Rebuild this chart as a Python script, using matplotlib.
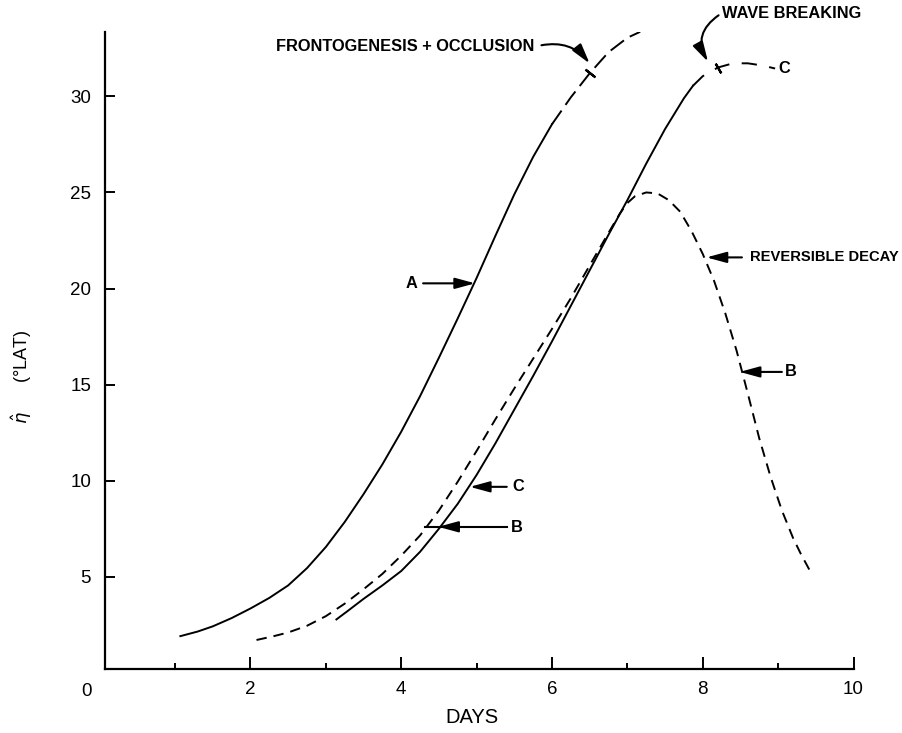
import matplotlib
matplotlib.use('Agg')
import matplotlib.pyplot as plt
import numpy as np

plt.rcParams['font.family'] = ['Liberation Sans', 'DejaVu Sans']
plt.rcParams['lines.scale_dashes'] = False

# curve A: solid up to a_break, dashed after
a_days = [1.07, 1.30, 1.50, 1.75, 2.00, 2.25, 2.50, 2.75, 3.00, 3.25, 3.50, 3.75,
          4.00, 4.25, 4.50, 4.75, 5.00, 5.25, 5.50, 5.75, 6.00, 6.25, 6.50, 6.75,
          7.00, 7.17]
a_eta = [1.91, 2.15, 2.42, 2.85, 3.35, 3.90, 4.55, 5.45, 6.55, 7.85, 9.30, 10.85,
         12.55, 14.40, 16.40, 18.45, 20.55, 22.75, 24.90, 26.85, 28.55, 29.95, 31.20, 32.30,
         33.05, 33.36]
a_break = 6.0
a_tick = 6.5

# curve B: dashed throughout
b_days = [2.08, 2.30, 2.50, 2.75, 3.00, 3.25, 3.50, 3.75, 4.00, 4.25, 4.50, 4.75,
          5.00, 5.25, 5.50, 5.75, 6.00, 6.25, 6.50, 6.75, 6.90, 7.00, 7.10, 7.25,
          7.40, 7.55, 7.70, 7.85, 8.00, 8.15, 8.30, 8.45, 8.60, 8.75, 8.90, 9.05,
          9.20, 9.30, 9.44]
b_eta = [1.71, 1.90, 2.10, 2.45, 2.95, 3.60, 4.35, 5.15, 6.10, 7.15, 8.45, 9.95,
         11.55, 13.20, 14.80, 16.35, 17.90, 19.50, 21.20, 22.90, 23.90, 24.45, 24.80, 25.00,
         24.95, 24.60, 24.00, 23.00, 21.80, 20.40, 18.70, 16.75, 14.50, 12.20, 10.20, 8.45,
         7.00, 6.20, 5.18]

# curve C: solid up to c_break, dashed after
c_days = [3.14, 3.30, 3.50, 3.75, 4.00, 4.25, 4.50, 4.75, 5.00, 5.25, 5.50, 5.75,
          6.00, 6.25, 6.50, 6.75, 7.00, 7.25, 7.50, 7.75, 7.87, 8.00, 8.20, 8.40,
          8.60, 8.80, 8.96]
c_eta = [2.78, 3.25, 3.85, 4.55, 5.30, 6.30, 7.50, 8.80, 10.30, 11.95, 13.70, 15.45,
         17.25, 19.10, 20.95, 22.80, 24.60, 26.50, 28.30, 29.90, 30.55, 31.05, 31.50, 31.72,
         31.72, 31.60, 31.45]
c_break = 7.87
c_tick = 8.2

x_major = [2, 4, 6, 8, 10]
x_minor = [1, 3, 5, 7, 9]
y_major = [5, 10, 15, 20, 25, 30]

fig = plt.figure(figsize=(9.02, 7.33), dpi=100)
ax = fig.add_axes([105 / 902, 64 / 733, 748.5 / 902, 637 / 733])

lw = 1.4


def split(days, eta, brk):
    d = np.array(days)
    e = np.array(eta)
    return (d[d <= brk], e[d <= brk]), (d[d >= brk], e[d >= brk])


(sx, sy), (dx, dy) = split(a_days, a_eta, a_break)
ax.plot(sx, sy, 'k-', lw=lw)
ax.plot(dx, dy, 'k', lw=lw, dashes=(12, 5))
ax.plot(a_days, a_eta, ls='none', marker=(2, 2, 52), ms=9, mec='k', mew=1.6,
        markevery=[a_days.index(a_tick)])

(sx, sy), (dx, dy) = split(c_days, c_eta, c_break)
ax.plot(sx, sy, 'k-', lw=lw)
ax.plot(dx, dy, 'k', lw=lw, dashes=(11, 9))
ax.plot(c_days, c_eta, ls='none', marker=(2, 2, 30), ms=8, mec='k', mew=1.6,
        markevery=[c_days.index(c_tick)])

ax.plot(b_days, b_eta, 'k', lw=lw, dashes=(7.5, 5))

# annotations
arrow = dict(arrowstyle='-|>,head_length=1.1,head_width=0.3', color='k', lw=1.5,
             shrinkA=0, shrinkB=0, mutation_scale=11)
lab = dict(fontsize=11.8, fontweight='bold', va='center')

ax.annotate('', xy=(4.98, 20.27), xytext=(4.29, 20.27), arrowprops=arrow)
ax.text(4.14, 20.27, 'A', ha='center', **lab)

ax.annotate('', xy=(4.91, 9.68), xytext=(5.40, 9.68), arrowprops=arrow)
ax.text(5.47, 9.68, 'C', ha='left', **lab)

ax.plot([4.32, 5.40], [7.60, 7.60], 'k-', lw=1.5)
ax.annotate('', xy=(4.49, 7.60), xytext=(4.70, 7.60), arrowprops=arrow)
ax.text(5.46, 7.55, 'B', ha='left', **lab)

ax.annotate('', xy=(8.49, 15.66), xytext=(9.05, 15.66), arrowprops=arrow)
ax.text(9.09, 15.66, 'B', ha='left', **lab)

ax.annotate('', xy=(8.05, 21.62), xytext=(8.52, 21.62), arrowprops=arrow)
ax.text(8.63, 21.62, 'REVERSIBLE DECAY', ha='left', **dict(lab, fontsize=10.6))

ax.text(9.0, 31.45, 'C', ha='left', **lab)

ax.text(2.34, 32.58, 'FRONTOGENESIS + OCCLUSION', ha='left', **lab)
ax.annotate('', xy=(6.50, 31.71), xytext=(5.86, 32.66),
            arrowprops=dict(arrow, connectionstyle='arc3,rad=-0.3'))

ax.text(8.25, 34.31, 'WAVE BREAKING', ha='left', **lab)
ax.annotate('', xy=(8.07, 31.80), xytext=(8.21, 34.22),
            arrowprops=dict(arrow, connectionstyle='arc3,rad=0.45'))

# axes
ax.set_xlim(0.07, 10)
ax.set_ylim(0.2, 33.35)
for s in ['top', 'right']:
    ax.spines[s].set_visible(False)
for s in ['left', 'bottom']:
    ax.spines[s].set_linewidth(1.6)

ax.set_xticks(x_major)
ax.set_xticks(x_minor, minor=True)
ax.set_yticks(y_major)
ax.tick_params(axis='x', which='major', direction='in', length=9, width=1.4,
               labelsize=13.5, pad=9)
ax.tick_params(axis='x', which='minor', direction='in', length=4.5, width=1.4)
ax.tick_params(axis='y', which='major', direction='in', length=7, width=1.4,
               labelsize=13.5, pad=10)
ax.text(-0.18, -0.95, '0', fontsize=13.5, ha='center', va='center', clip_on=False)

ax.set_xlabel('DAYS', fontsize=14.5, family=['Liberation Sans Narrow', 'Liberation Sans'])
ax.xaxis.set_label_coords(0.49, -0.062)
ax.set_ylabel(r'$\hat{\eta}$      (°LAT)', fontsize=13)
ax.yaxis.set_label_coords(-0.095, 0.459)

fig.savefig('out.png', dpi=100)
